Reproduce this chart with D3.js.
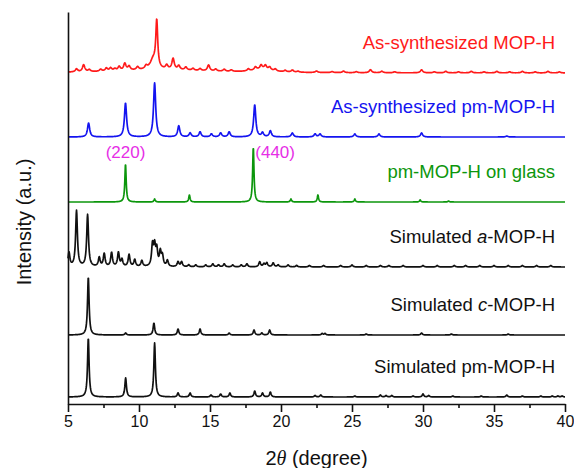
<!DOCTYPE html>
<html>
<head>
<meta charset="utf-8">
<script src="https://cdn.jsdelivr.net/npm/d3@7"></script>
<style>
  body { margin: 0; background: #fff; }
  text { font-family: "Liberation Sans", Arial, sans-serif; }
</style>
</head>
<body>
<svg id="chart" width="574" height="468"></svg>
<script>
// tick values
var xTicks = [5, 10, 15, 20, 25, 30, 35, 40];
var xMinor = [7.5, 12.5, 17.5, 22.5, 27.5, 32.5, 37.5];

// patterns, top to bottom
var seriesNames = ["As-synthesized MOP-H", "As-synthesized pm-MOP-H", "pm-MOP-H on glass",
                   "Simulated a-MOP-H", "Simulated c-MOP-H", "Simulated pm-MOP-H"];
var seriesColors = ["#ff1a1a", "#1414f0", "#0c960c", "#111", "#111", "#111"];
var seriesOffsets = [331, 267, 202, 137, 69, 7];
var seriesWidths = [0.1, 0.09, 0.055, 0.075, 0.065, 0.065];

// peaks: [2theta, height, (half width)]
var redPeaks = [[5.6,3],[6.1,7],[6.5,2],[7.3,2],[7.7,3],[8.0,3],[8.3,2],[8.6,4],[9.0,7],[9.3,4],
  [9.9,3],[10.5,3],[11.0,10,0.25],[11.25,46,0.08],[11.95,4],[12.4,11],[12.8,4],[13.3,3],[13.8,2],
  [14.3,2],[14.9,6],[15.4,2],[16.0,2],[16.5,1.5],[17.7,2],[18.2,3],[18.6,4],[18.9,4],[19.2,3],
  [19.6,2],[20.3,1.5],[20.8,2],[21.2,1],[22.5,1.5],[23.6,1],[24.4,1.5],[25.3,1],[26.3,3],[27.1,1.5],
  [28.0,1],[29.9,3],[30.8,1],[31.6,1.5],[32.5,1],[33.4,1.5],[34.3,1],[35.2,1.5],[36.1,1],[37.0,1.5],
  [37.9,1],[38.8,1.5],[39.6,1],[11.5,3,4],[18.7,3,0.8]];
var bluePeaks = [[6.45,14],[9.05,34],[11.1,54],[12.8,11],[13.6,4],[14.3,5],[15.1,3],[15.75,4],
  [16.35,5],[18.15,32],[18.7,4],[19.25,6],[20.8,4],[22.4,3],[22.75,3],[25.2,3],[26.9,3],[29.9,4],[35.9,1]];
var greenPeaks = [[9.05,38],[11.1,3],[13.55,7],[18.05,55],[20.7,3],[22.6,7],[25.2,3],[29.8,2],[31.8,1]];
var aPeaks = [[5.07,14],[5.6,56],[6.38,52],[7.2,9],[7.55,13],[8.07,14],[8.55,14],[8.8,7],[9.3,12],
  [9.7,7],[10.2,6],[10.95,21],[11.1,19],[11.25,16],[11.5,14],[11.65,10],[12.0,6],[12.75,5],[13.0,5],
  [13.5,2],[14.0,2],[14.7,2],[15.2,3],[15.6,2],[16.0,3],[16.6,2],[17.2,2],[17.6,3],[18.5,5],[18.8,3],
  [19.0,4],[19.45,4],[19.8,2],[20.5,2],[21.1,1.5],[22.0,1.5],[23.0,1.5],[24.2,1.5],[25.0,2],[26.0,1.5],
  [27.0,1.5],[27.6,1.5],[28.6,1.5],[30.0,1.5],[31.0,1.5],[32.2,1.5],[33.0,1.5],[34.0,1.5],[35.0,1.5],
  [36.0,1.5],[37.0,1.5],[38.0,1.5],[39.0,1.5]];
var cPeaks = [[6.43,58],[9.06,2],[11.05,12],[12.75,6],[14.3,6],[16.35,2],[18.1,5],[18.65,2],[19.2,5],
  [22.9,1.5],[23.1,1.5],[26.0,1],[29.9,2],[32.0,1],[36.0,1]];
var pmPeaks = [[6.43,59],[9.06,19],[11.1,54],[12.75,4],[13.6,4],[15.07,2],[15.75,3],[16.4,4],[18.15,6],
  [18.7,4],[19.25,5],[22.4,1.5],[22.8,2],[25.2,1],[27.0,2],[27.4,1.5],[27.8,1.5],[29.3,1],[30.0,3],
  [30.4,1.5],[32.1,1],[34.1,1],[35.9,2],[37.0,1],[38.3,1],[39.1,1],[39.5,1],[39.8,1]];
var seriesPeaks = [redPeaks, bluePeaks, greenPeaks, aPeaks, cPeaks, pmPeaks];

// reflections marked on the glass pattern
var hklLabels = ["(220)", "(440)"];
var hklPos = [9.05, 18.05];

var svg = d3.select("#chart");
var margin = {left: 68, right: 9, top: 12, bottom: 64};
var width = 574 - margin.left - margin.right;
var height = 468 - margin.top - margin.bottom;

var plot = svg.append("g").attr("transform", "translate(" + margin.left + "," + margin.top + ")");

var xScale = d3.scaleLinear().domain([5, 40]).range([0, width]);
var yScale = d3.scaleLinear().domain([0, height]).range([height, 0]);

// peak profile (lorentzian) summed over the listed peaks
function profile(peaks, w) {
  var pts = [];
  var xs = d3.range(5, 40.001, 0.02);
  xs.forEach(function(x) {
    var s = 0;
    peaks.forEach(function(p) {
      var g = p[2] || w;
      var t = (x - p[0]) / g;
      s += p[1] / (1 + t * t);
    });
    pts.push([x, s]);
  });
  return pts;
}

var line = d3.line()
  .x(function(d) { return xScale(d[0]); })
  .y(function(d) { return yScale(d[1]); });

seriesPeaks.forEach(function(peaks, i) {
  var off = seriesOffsets[i];
  var pts = profile(peaks, seriesWidths[i]).map(function(d) { return [d[0], d[1] + off]; });
  plot.append("path")
    .datum(pts)
    .attr("fill", "none")
    .attr("stroke", seriesColors[i])
    .attr("stroke-width", 1.7)
    .attr("stroke-linejoin", "round")
    .attr("d", line);

  var lbl = plot.append("text")
    .attr("x", width - 10)
    .attr("y", yScale(off) - 24)
    .attr("text-anchor", "end")
    .attr("fill", seriesColors[i])
    .style("font-size", "18.5px");
  if (i == 3 || i == 4) {
    var parts = seriesNames[i].split(" ");
    var ital = parts[1].split("-")[0];
    lbl.append("tspan").text(parts[0] + " ");
    lbl.append("tspan").style("font-style", "italic").text(ital);
    lbl.append("tspan").text(parts[1].slice(ital.length));
  } else {
    lbl.text(seriesNames[i]);
  }
});

// hkl labels
plot.append("text")
  .attr("x", xScale(hklPos[0]))
  .attr("y", yScale(seriesOffsets[2]) - 44)
  .attr("text-anchor", "middle")
  .attr("fill", "#e62ee6")
  .style("font-size", "17px")
  .text(hklLabels[0]);
plot.append("text")
  .attr("x", xScale(hklPos[1]) + 2)
  .attr("y", yScale(seriesOffsets[2]) - 44)
  .attr("text-anchor", "start")
  .attr("fill", "#e62ee6")
  .style("font-size", "17px")
  .text(hklLabels[1]);

// axes
var xAxis = plot.append("g")
  .attr("transform", "translate(0," + height + ")")
  .call(d3.axisBottom(xScale).tickValues(xTicks).tickSize(8).tickSizeOuter(0).tickPadding(4));
plot.append("g")
  .attr("transform", "translate(0," + height + ")")
  .call(d3.axisBottom(xScale).tickValues(xMinor).tickSize(4).tickFormat("").tickSizeOuter(0))
  .select(".domain").remove();
xAxis.selectAll("text").style("font-size", "16px").attr("fill", "#111")
  .style("font-family", "'Liberation Sans', Arial, sans-serif");
plot.selectAll(".domain, .tick line").attr("stroke", "#111").attr("stroke-width", 1.6);

plot.append("g")
  .call(d3.axisLeft(yScale).tickValues([]).tickSizeOuter(0))
  .select(".domain").attr("stroke", "#111").attr("stroke-width", 1.6);

// axis titles
var xt = svg.append("text")
  .attr("x", margin.left + width / 2)
  .attr("y", 465)
  .attr("text-anchor", "middle")
  .attr("fill", "#111")
  .style("font-size", "20px");
xt.append("tspan").text("2");
xt.append("tspan").style("font-style", "italic").style("font-family", "'Liberation Serif', serif").text("θ");
xt.append("tspan").text(" (degree)");

svg.append("text")
  .attr("transform", "translate(31," + 222 + ") rotate(-90)")
  .attr("text-anchor", "middle")
  .attr("fill", "#111")
  .style("font-size", "20px")
  .text("Intensity (a.u.)");
</script>
</body>
</html>
